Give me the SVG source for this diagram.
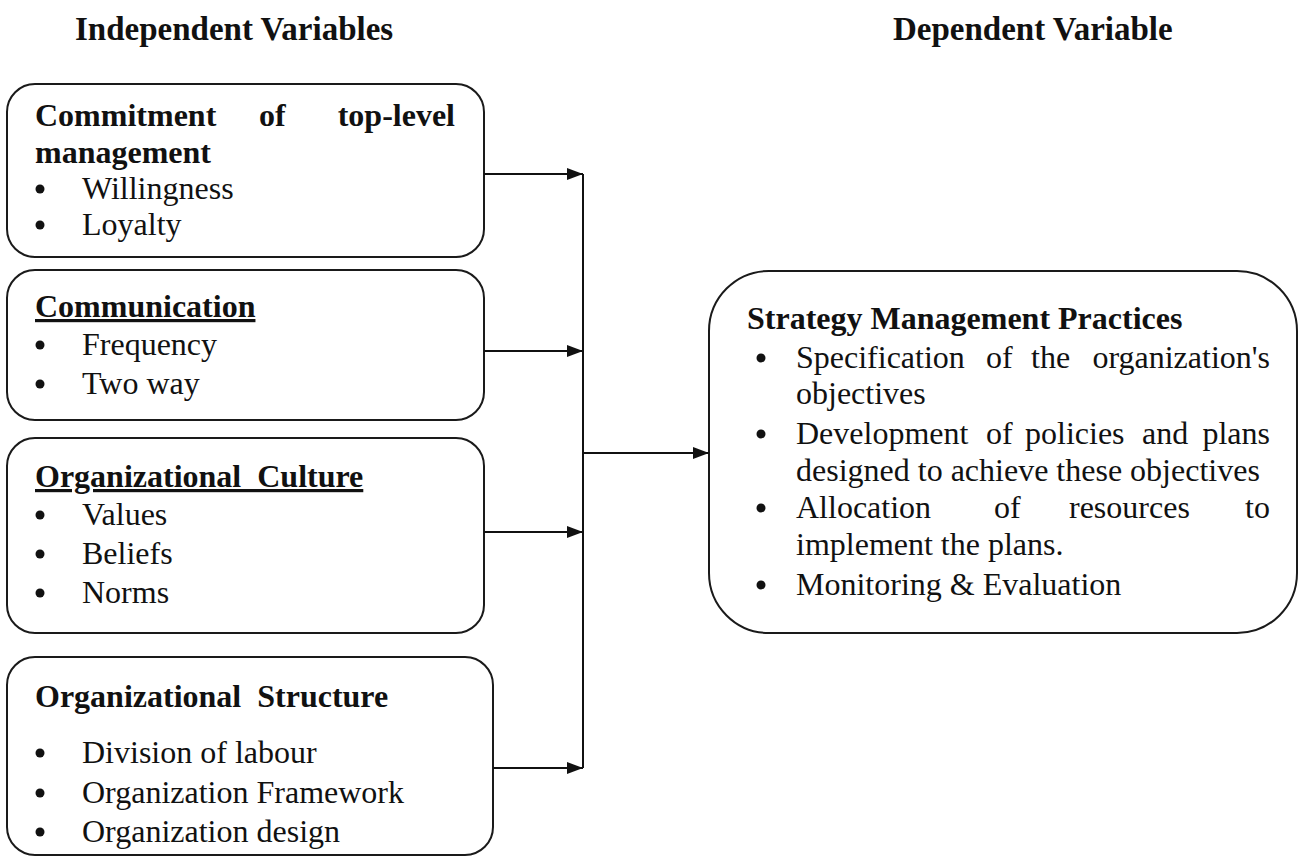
<svg xmlns="http://www.w3.org/2000/svg" width="1299" height="858" viewBox="0 0 1299 858">
<style>
.box{fill:none;stroke:#1a1a1a;stroke-width:2}
.t{font-family:"Liberation Serif","Times New Roman",serif;font-size:32px;fill:#111}
.h{font-size:33px}
.b{font-weight:bold}
.u{text-decoration:underline}
.e{text-anchor:end}
.dot{fill:#111}
.c{stroke:#111;stroke-width:2;fill:none}
</style>
<defs>
<marker id="ah" markerUnits="userSpaceOnUse" viewBox="0 0 16 12" markerWidth="16" markerHeight="12" refX="16" refY="6" orient="auto">
<path d="M0,0 L16,6 L0,12 z" fill="#111"/>
</marker>
</defs>
<rect width="1299" height="858" fill="#fff"/>
<g id="headers">
<text class="t b h" x="75" y="40">Independent Variables</text>
<text class="t b h" x="893" y="40">Dependent Variable</text>
</g>
<g id="node-commitment">
<rect class="box" x="7" y="84" width="477" height="173" rx="28"/>
<text class="t b" x="35" y="126">Commitment</text>
<text class="t b" x="259" y="126">of</text>
<text class="t b e" x="455" y="126">top-level</text>
<text class="t b" x="35" y="163">management</text>
<circle class="dot" cx="40" cy="189" r="4.5"/><text class="t" x="82" y="199">Willingness</text>
<circle class="dot" cx="40" cy="225" r="4.5"/><text class="t" x="82" y="235">Loyalty</text>
</g>
<g id="node-communication">
<rect class="box" x="7" y="270" width="477" height="150" rx="28"/>
<text class="t b u" x="35" y="317">Communication</text>
<circle class="dot" cx="40" cy="345" r="4.5"/><text class="t" x="82" y="355">Frequency</text>
<circle class="dot" cx="40" cy="384" r="4.5"/><text class="t" x="82" y="394">Two way</text>
</g>
<g id="node-culture">
<rect class="box" x="7" y="438" width="477" height="195" rx="28"/>
<text class="t b u" x="35" y="487">Organizational&#160; Culture</text>
<circle class="dot" cx="40" cy="515" r="4.5"/><text class="t" x="82" y="525">Values</text>
<circle class="dot" cx="40" cy="554" r="4.5"/><text class="t" x="82" y="564">Beliefs</text>
<circle class="dot" cx="40" cy="593" r="4.5"/><text class="t" x="82" y="603">Norms</text>
</g>
<g id="node-structure">
<rect class="box" x="7" y="657" width="486" height="198" rx="28"/>
<text class="t b" x="35" y="707">Organizational&#160; Structure</text>
<circle class="dot" cx="40" cy="753" r="4.5"/><text class="t" x="82" y="763">Division of labour</text>
<circle class="dot" cx="40" cy="793" r="4.5"/><text class="t" x="82" y="803">Organization Framework</text>
<circle class="dot" cx="40" cy="832" r="4.5"/><text class="t" x="82" y="842">Organization design</text>
</g>
<g id="node-strategy">
<rect class="box" x="709" y="271" width="588" height="362" rx="60"/>
<text class="t b" x="747" y="329">Strategy Management Practices</text>
<circle class="dot" cx="761" cy="358" r="4.5"/>
<text class="t" x="796" y="368">Specification</text>
<text class="t" x="986" y="368">of</text>
<text class="t" x="1031" y="368">the</text>
<text class="t e" x="1270" y="368">organization's</text>
<text class="t" x="796" y="404">objectives</text>
<circle class="dot" cx="761" cy="434" r="4.5"/>
<text class="t" x="796" y="444">Development</text>
<text class="t" x="986" y="444">of</text>
<text class="t" x="1025" y="444">policies</text>
<text class="t" x="1142" y="444">and</text>
<text class="t e" x="1270" y="444">plans</text>
<text class="t" x="796" y="481">designed to achieve these objectives</text>
<circle class="dot" cx="761" cy="508" r="4.5"/>
<text class="t" x="796" y="518">Allocation</text>
<text class="t" x="994" y="518">of</text>
<text class="t" x="1069" y="518">resources</text>
<text class="t e" x="1270" y="518">to</text>
<text class="t" x="796" y="555">implement the plans.</text>
<circle class="dot" cx="761" cy="585" r="4.5"/>
<text class="t" x="796" y="595">Monitoring &amp; Evaluation</text>
</g>
<g id="connectors">
<path class="c" d="M484,174 H583" marker-end="url(#ah)"/>
<path class="c" d="M484,351 H583" marker-end="url(#ah)"/>
<path class="c" d="M484,532 H583" marker-end="url(#ah)"/>
<path class="c" d="M493,768 H583" marker-end="url(#ah)"/>
<path class="c" d="M583,174 V768"/>
<path class="c" d="M583,453 H709" marker-end="url(#ah)"/>
</g>
</svg>
